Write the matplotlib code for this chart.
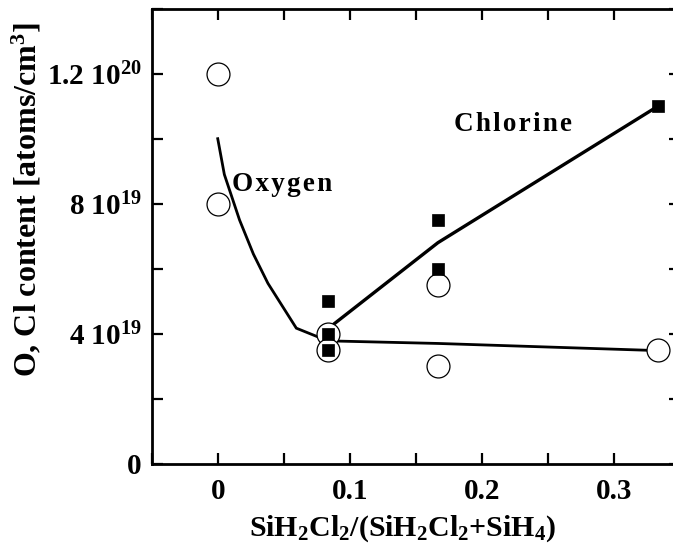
import matplotlib
matplotlib.use("Agg")
import matplotlib.pyplot as plt
from matplotlib.ticker import FixedLocator, FixedFormatter, MultipleLocator

plt.rcParams['font.family'] = ['Liberation Serif', 'DejaVu Serif']
plt.rcParams['font.weight'] = 'bold'
plt.rcParams['mathtext.fontset'] = 'custom'
plt.rcParams['mathtext.rm'] = 'Liberation Serif:bold'
plt.rcParams['mathtext.it'] = 'Liberation Serif:bold'
plt.rcParams['mathtext.bf'] = 'Liberation Serif:bold'

# measured data
oxygen_x = [0.0, 0.0, 0.0833, 0.0833, 0.1667, 0.1667, 0.3333]
oxygen_y = [1.2e20, 8.0e19, 4.0e19, 3.5e19, 5.5e19, 3.0e19, 3.5e19]
chlorine_x = [0.0833, 0.0833, 0.0833, 0.1667, 0.1667, 0.3333]
chlorine_y = [5.0e19, 4.0e19, 3.5e19, 7.5e19, 6.0e19, 1.1e20]

# hand-drawn trend lines
oxygen_line_x = [0.0, 0.005, 0.0165, 0.027, 0.038, 0.0595, 0.0833, 0.1667, 0.3333]
oxygen_line_y = [1.0e20, 8.9e19, 7.5e19, 6.45e19, 5.55e19, 4.17e19, 3.78e19, 3.7e19, 3.48e19]
chlorine_line_x = [0.0833, 0.1667, 0.3333]
chlorine_line_y = [4.15e19, 6.8e19, 1.1e20]

x_ticks = [0.0, 0.1, 0.2, 0.3]
x_tick_labels = ['0', '0.1', '0.2', '0.3']
y_ticks = [0.0, 4e19, 8e19, 1.2e20]
y_tick_labels = ['0', r'4 10$^{19}$', r'8 10$^{19}$', r'1.2 10$^{20}$']

fig = plt.figure(figsize=(6.73, 5.53), dpi=100)
ax = fig.add_axes([151.7 / 673, 89.3 / 553, (680 - 151.7) / 673, (463.7 - 8.7) / 553])

ax.plot(oxygen_line_x, oxygen_line_y, color='black', lw=2.0, zorder=2, solid_joinstyle='miter')
ax.plot(chlorine_line_x, chlorine_line_y, color='black', lw=2.4, zorder=2, solid_joinstyle='miter')
ax.plot(oxygen_x, oxygen_y, linestyle='none', marker='o', markersize=16.5,
        markerfacecolor='white', markeredgecolor='black', markeredgewidth=0.9, zorder=3)
ax.plot(chlorine_x, chlorine_y, linestyle='none', marker='s', markersize=8.5,
        markerfacecolor='black', markeredgecolor='black', markeredgewidth=0.5, zorder=4)

ax.text(0.049, 8.58e19, 'O\u200ax\u200ay\u200ag\u200ae\u200an', fontsize=19.5, fontweight='bold',
        ha='center', va='center')
ax.text(0.2238, 1.045e20, 'C\u200ah\u200al\u200ao\u200ar\u200ai\u200an\u200ae', fontsize=19.5,
        fontweight='bold', ha='center', va='center')

ax.set_xlim(-0.05, 0.35)
ax.set_ylim(0, 1.4e20)
ax.xaxis.set_major_locator(FixedLocator(x_ticks))
ax.xaxis.set_major_formatter(FixedFormatter(x_tick_labels))
ax.xaxis.set_minor_locator(MultipleLocator(0.05))
ax.yaxis.set_major_locator(FixedLocator(y_ticks))
ax.yaxis.set_major_formatter(FixedFormatter(y_tick_labels))
ax.yaxis.set_minor_locator(MultipleLocator(2e19))

ax.tick_params(which='both', direction='in', top=True, right=True, length=8, width=1.6)
ax.tick_params(axis='x', which='major', labelsize=21, pad=10)
ax.tick_params(axis='y', which='major', labelsize=21, pad=7)
for s in ax.spines.values():
    s.set_linewidth(2.0)

ax.set_xlabel(r'SiH$_2$Cl$_2$/(SiH$_2$Cl$_2$+SiH$_4$)', fontsize=21.5, fontweight='bold')
ax.xaxis.set_label_coords(0.474, -0.11)
ax.set_ylabel(r'O, Cl content [atoms/cm$^3$]', fontsize=23, fontweight='bold')
ax.yaxis.set_label_coords(-0.205, 0.58)

fig.savefig('out.png', dpi=100)
